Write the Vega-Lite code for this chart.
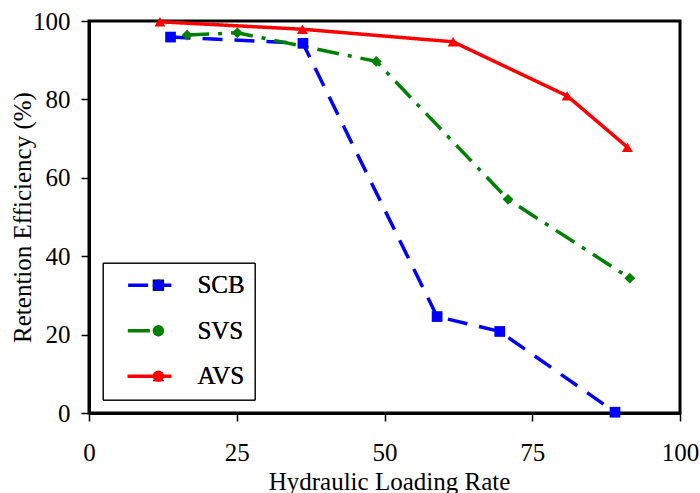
{
  "$schema": "https://vega.github.io/schema/vega-lite/v6.json",
  "width": 591,
  "height": 392,
  "autosize": {"type": "none"},
  "padding": {"left": 89, "top": 21, "right": 20, "bottom": 80},
  "background": "white",
  "data": {
    "values": [
      {"series": "SCB", "x": 13.8, "y": 95.9},
      {"series": "SCB", "x": 36.2, "y": 94.3},
      {"series": "SCB", "x": 58.9, "y": 24.6},
      {"series": "SCB", "x": 69.5, "y": 20.8},
      {"series": "SCB", "x": 89.0, "y": 0.2},
      {"series": "SVS", "x": 16.6, "y": 96.4},
      {"series": "SVS", "x": 25.1, "y": 97.0},
      {"series": "SVS", "x": 48.6, "y": 89.7},
      {"series": "SVS", "x": 70.9, "y": 54.5},
      {"series": "SVS", "x": 91.5, "y": 34.4},
      {"series": "AVS", "x": 12.0, "y": 99.8},
      {"series": "AVS", "x": 36.1, "y": 97.9},
      {"series": "AVS", "x": 61.6, "y": 94.7},
      {"series": "AVS", "x": 80.9, "y": 80.9},
      {"series": "AVS", "x": 91.1, "y": 67.8}
    ]
  },
  "encoding": {
    "x": {
      "field": "x", "type": "quantitative",
      "scale": {"domain": [0, 100], "nice": false, "zero": false},
      "axis": {
        "title": "Hydraulic Loading Rate",
        "values": [0, 25, 50, 75, 100],
        "grid": false,
        "domainColor": "black", "domainWidth": 3,
        "tickColor": "black", "tickWidth": 1.5, "tickSize": 8,
        "labelFont": "Times New Roman, Liberation Serif, serif", "labelFontSize": 25, "labelColor": "black",
        "labelBaseline": "alphabetic", "labelPadding": 39.7, "labelFlush": false, "labelOverlap": false,
        "titleFont": "Times New Roman, Liberation Serif, serif", "titleFontSize": 25, "titleFontWeight": "normal", "titleColor": "black",
        "titleBaseline": "alphabetic", "titleX": 300, "titleY": 76, "titleAlign": "center"
      }
    },
    "y": {
      "field": "y", "type": "quantitative",
      "scale": {"domain": [0, 100], "nice": false, "zero": false},
      "axis": {
        "title": "Retention Efficiency (%)",
        "values": [0, 20, 40, 60, 80, 100],
        "grid": false,
        "domainColor": "black", "domainWidth": 3,
        "tickColor": "black", "tickWidth": 1.5, "tickSize": 8,
        "labelFont": "Times New Roman, Liberation Serif, serif", "labelFontSize": 25, "labelColor": "black",
        "labelBaseline": "middle", "labelPadding": 11, "labelFlush": false, "labelOverlap": false,
        "titleFont": "Times New Roman, Liberation Serif, serif", "titleFontSize": 25, "titleFontWeight": "normal", "titleColor": "black",
        "titleBaseline": "alphabetic", "titleAngle": -90, "titleX": -59, "titleY": 196, "titleAlign": "center"
      }
    }
  },
  "layer": [
    {
      "mark": {"type": "line", "strokeWidth": 3.5},
      "encoding": {
        "color": {
          "field": "series", "type": "nominal",
          "scale": {"domain": ["SCB", "SVS", "AVS"], "range": ["#0000ff", "#008000", "#ff0000"]},
          "legend": {
            "orient": "none", "legendX": 13.7, "legendY": 241.7, "title": null,
            "symbolType": "M-5,0L5,0", "symbolSize": 625, "symbolStrokeWidth": 3.5,
            "symbolOffset": 29.7, "clipHeight": 25, "labelExpr": "''",
            "labelFont": "Times New Roman, Liberation Serif, serif", "labelFontSize": 25, "labelLimit": 0,
            "rowPadding": 19.5, "padding": 10
          }
        },
        "strokeDash": {
          "field": "series", "type": "nominal",
          "scale": {"domain": ["SCB", "SVS", "AVS"], "range": [[20, 12], [22, 9, 4, 9], [1, 0]]},
          "legend": {
            "orient": "none", "legendX": 13.7, "legendY": 241.7, "title": null,
            "symbolType": "M-5,0L5,0", "symbolSize": 625, "symbolStrokeWidth": 3.5,
            "symbolOffset": 29.7, "clipHeight": 25, "labelExpr": "''",
            "labelFont": "Times New Roman, Liberation Serif, serif", "labelFontSize": 25, "labelLimit": 0,
            "rowPadding": 19.5, "padding": 10
          }
        }
      }
    },
    {
      "mark": {"type": "point", "filled": true, "opacity": 1, "strokeWidth": 0},
      "encoding": {
        "size": {
          "field": "series", "type": "nominal",
          "scale": {"domain": ["SCB", "SVS", "AVS"], "range": [115, 120, 190]},
          "legend": null
        },
        "fill": {
          "field": "series", "type": "nominal",
          "sort": ["SCB", "SVS", "AVS"],
          "scale": {"range": ["#0000ff", "#008000", "#ff0000"]},
          "legend": {
            "orient": "none", "legendX": 13.7, "legendY": 241.7, "title": null,
            "symbolSize": 130, "symbolStrokeWidth": 0, "symbolOpacity": 1,
            "symbolOffset": 33.2, "labelOffset": 26.5,
            "labelFont": "Times New Roman, Liberation Serif, serif", "labelFontSize": 25, "labelColor": "black", "labelLimit": 0,
            "rowPadding": 19.5, "padding": 10, "strokeColor": "black"
          }
        },
        "shape": {
          "field": "series", "type": "nominal",
          "sort": ["SCB", "SVS", "AVS"],
          "scale": {"range": ["square", "diamond", "triangle-up"]},
          "legend": {
            "orient": "none", "legendX": 13.7, "legendY": 241.7, "title": null,
            "symbolSize": 130, "symbolStrokeWidth": 0, "symbolOpacity": 1,
            "symbolOffset": 33.2, "labelOffset": 26.5,
            "labelFont": "Times New Roman, Liberation Serif, serif", "labelFontSize": 25, "labelColor": "black", "labelLimit": 0,
            "rowPadding": 19.5, "padding": 10, "strokeColor": "black"
          }
        }
      }
    }
  ],
  "config": {
    "font": "Times New Roman, Liberation Serif, serif",
    "view": {"stroke": "black", "strokeWidth": 3}
  }
}
